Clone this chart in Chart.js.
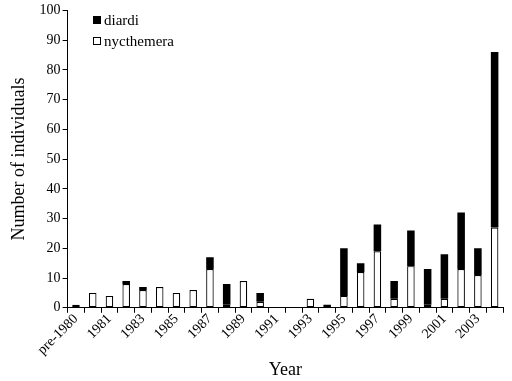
<!DOCTYPE html>
<html>
<head>
<meta charset="utf-8">
<script src="https://cdn.jsdelivr.net/npm/chart.js@4/dist/chart.umd.min.js"></script>
<style>
  html, body { margin: 0; padding: 0; background: #fff; }
  #wrap { width: 512px; height: 381px; }
</style>
</head>
<body>
<div id="wrap"><canvas id="bar-canvas"></canvas></div>
<script>
var years = ['pre-1980', '1980', '1981', '1982', '1983', '1984', '1985', '1986', '1987', '1988',
    '1989', '1990', '1991', '1992', '1993', '1994', '1995', '1996', '1997', '1998',
    '1999', '2000', '2001', '2002', '2003', '2004'];
var nycthemera = [1, 5, 4, 8, 6, 7, 5, 6, 13, 1, 9, 2, 0, 0, 3, 0, 4, 12, 19, 3, 14, 1, 3, 13, 11, 27];
var diardi = [0, 0, 0, 1, 1, 0, 0, 0, 4, 7, 0, 3, 0, 0, 0, 1, 16, 3, 9, 6, 12, 12, 15, 19, 9, 59];

var serif = '"Liberation Serif", "Times New Roman", serif';

// legend drawn inside the plot, top left
var boxLegend = {
    id: 'boxLegend',
    afterDraw: function (chart) {
        var ctx = chart.ctx;
        var area = chart.chartArea;
        var items = [chart.data.datasets[1], chart.data.datasets[0]];
        ctx.save();
        ctx.font = '15px ' + serif;
        ctx.textBaseline = 'middle';
        for (var i = 0; i < items.length; i++) {
            var x = Math.round(area.left) + 25;
            var y = Math.round(area.top) + 10 + i * 21;
            ctx.fillStyle = items[i].backgroundColor;
            ctx.fillRect(x, y - 4, 8, 8);
            ctx.strokeStyle = '#000';
            ctx.lineWidth = 1;
            ctx.strokeRect(x + 0.5, y - 3.5, 7, 7);
            ctx.fillStyle = '#000';
            ctx.fillText(items[i].label, x + 11, y + 1);
        }
        ctx.restore();
    }
};

var barConfig = {
    type: 'bar',
    data: {
        labels: years,
        datasets: [{
            label: 'nycthemera',
            data: nycthemera,
            backgroundColor: '#ffffff',
            borderColor: '#000000',
            borderWidth: function (c) { return c.raw ? 1.2 : 0; },
            borderSkipped: false
        }, {
            label: 'diardi',
            data: diardi,
            backgroundColor: '#000000',
            borderColor: '#000000',
            borderWidth: 0
        }]
    },
    options: {
        responsive: true,
        maintainAspectRatio: false,
        animation: false,
        layout: { padding: { top: 4, right: 9, left: 8, bottom: 0 } },
        datasets: {
            bar: { categoryPercentage: 1, barPercentage: 0.45 }
        },
        plugins: {
            legend: { display: false },
            tooltip: { enabled: false }
        },
        scales: {
            x: {
                stacked: true,
                border: { color: '#000', width: 1 },
                grid: { drawOnChartArea: false, drawTicks: true, tickLength: 5, color: '#000', offset: true },
                ticks: {
                    color: '#000',
                    font: { family: serif, size: 14 },
                    maxRotation: 45,
                    minRotation: 45,
                    autoSkip: false,
                    padding: -2,
                    callback: function (value, index) {
                        return index % 2 === 0 ? this.getLabelForValue(value) : '';
                    }
                },
                title: {
                    display: true,
                    text: 'Year',
                    color: '#000',
                    font: { family: serif, size: 18 },
                    padding: { top: 3, bottom: 0 }
                }
            },
            y: {
                stacked: true,
                min: 0,
                max: 100,
                border: { color: '#000', width: 1 },
                grid: { drawOnChartArea: false, drawTicks: true, tickLength: 5, color: '#000' },
                ticks: {
                    stepSize: 10,
                    color: '#000',
                    font: { family: serif, size: 14 },
                    padding: 2
                },
                title: {
                    display: true,
                    text: 'Number of individuals',
                    color: '#000',
                    font: { family: serif, size: 18 },
                    padding: { top: 0, bottom: 8 }
                }
            }
        }
    },
    plugins: [boxLegend]
};

var ctx = document.getElementById('bar-canvas').getContext('2d');
window.myBar = new Chart(ctx, barConfig);
</script>
</body>
</html>
